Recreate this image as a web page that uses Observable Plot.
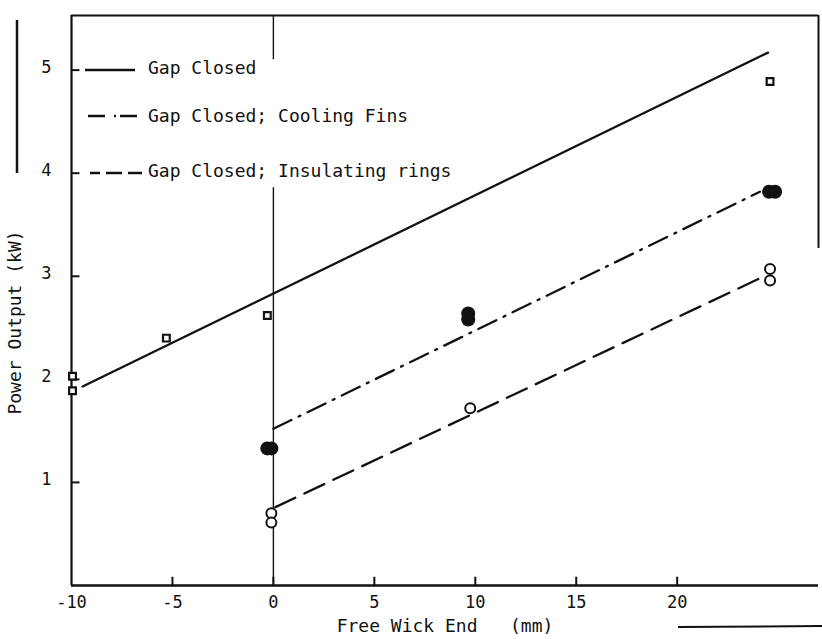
<!DOCTYPE html>
<html><head><meta charset="utf-8">
<script src="https://cdn.jsdelivr.net/npm/d3@7"></script>
<script src="https://cdn.jsdelivr.net/npm/@observablehq/plot@0.6"></script>
<style>
body{margin:0;background:#fff;}
#wrap{position:relative;width:822px;height:639px;overflow:hidden;}
#wrap svg text{white-space:pre;}
</style></head><body><div id="wrap"></div>
<script>
// ---- data ----
const xTicks = [-10, -5, 0, 5, 10, 15, 20];
const yTicks = [1, 2, 3, 4, 5];
const seriesNames = ["Gap Closed", "Gap Closed; Cooling Fins", "Gap Closed; Insulating rings"];
// Gap Closed (open squares)
const squareX = [-9.95, -9.95, -5.3, -0.3, 24.6];
const squareY = [2.03, 1.89, 2.40, 2.62, 4.89];
// Gap Closed; Cooling Fins (filled circles)
const filledX = [-0.3, -0.1, 9.65, 9.65, 24.55, 24.85];
const filledY = [1.33, 1.33, 2.64, 2.58, 3.82, 3.82];
// Gap Closed; Insulating rings (open circles)
const openX = [-0.1, -0.1, 9.75, 24.6, 24.6];
const openY = [0.70, 0.61, 1.72, 3.07, 2.96];
// fitted lines (end points)
const solidX = [-9.45, 24.5], solidY = [1.93, 5.17];
const dashDotX = [0, 24.1], dashDotY = [1.52, 3.82];
const dashedX = [0.1, 24.2], dashedY = [0.76, 2.99];
const xLabel = "Free Wick End   (mm)";
const yLabel = "Power Output (kW)";
const xDomain = [-10, 27], yDomain = [0, 5.53];
const zeroRuleSegments = [[0, 3.86], [5.10, 5.53]];
const rightFrameSpan = [3.27, 5.53];
const tickLenY = 0.08, tickLenX = 0.42;

// ---- build ----
const zip = (xs, ys) => xs.map((x, i) => ({x, y: ys[i]}));
const F = "'DejaVu Sans Mono', monospace";
const ink = "#111";

const plot = Plot.plot({
  width: 822, height: 639,
  marginLeft: 71, marginRight: 4, marginTop: 15, marginBottom: 54,
  x: {domain: xDomain},
  y: {domain: yDomain},
  style: {fontFamily: F, fontSize: "17px", color: ink, background: "#fff"},
  marks: [
    Plot.axisX(xTicks, {tickSize: 0, tickPadding: 10, fontSize: 17, label: null, tickFormat: d => String(d)}),
    Plot.axisY(yTicks, {tickSize: 0, tickPadding: 20, dy: -3, fontSize: 17, label: null, tickFormat: d => String(d)}),
    // inward ticks
    Plot.ruleX(xTicks.filter(d => d !== xDomain[0]), {x: d => d, y1: 0, y2: tickLenY, stroke: ink, strokeWidth: 2}),
    Plot.ruleY(yTicks, {y: d => d, x1: xDomain[0], x2: xDomain[0] + tickLenX, stroke: ink, strokeWidth: 2}),
    // frame
    Plot.ruleY([yDomain[0]], {stroke: ink, strokeWidth: 2.5}),
    Plot.ruleY([yDomain[1]], {stroke: ink, strokeWidth: 2}),
    Plot.ruleX([xDomain[0]], {stroke: ink, strokeWidth: 2.2}),
    Plot.ruleX([xDomain[1]], {y1: rightFrameSpan[0], y2: rightFrameSpan[1], stroke: ink, strokeWidth: 2}),
    // x = 0 reference line
    Plot.ruleX(zeroRuleSegments, {x: 0, y1: d => d[0], y2: d => d[1], stroke: ink, strokeWidth: 1.4}),
    // fitted lines
    Plot.line(zip(solidX, solidY), {x: "x", y: "y", stroke: ink, strokeWidth: 2.3}),
    Plot.line(zip(dashDotX, dashDotY), {x: "x", y: "y", stroke: ink, strokeWidth: 2.3, strokeDasharray: "20,8,2,8"}),
    Plot.line(zip(dashedX, dashedY), {x: "x", y: "y", stroke: ink, strokeWidth: 2.3, strokeDasharray: "22,10"}),
    // points
    Plot.dot(zip(squareX, squareY), {x: "x", y: "y", symbol: "square", r: 3.8, stroke: ink, strokeWidth: 2.2, fill: "#fff"}),
    Plot.dot(zip(filledX, filledY), {x: "x", y: "y", r: 7, fill: ink, stroke: "none"}),
    Plot.dot(zip(openX, openY), {x: "x", y: "y", r: 5, stroke: ink, strokeWidth: 2, fill: "#fff"}),
    // axis titles
    Plot.text([yLabel], {frameAnchor: "left", textAnchor: "middle", lineAnchor: "middle", rotate: -90, dx: -56, dy: 22, fontSize: 18, fill: ink}),
    Plot.text([xLabel], {frameAnchor: "bottom", textAnchor: "middle", lineAnchor: "middle", dy: 41, fontSize: 18, fill: ink})
  ]
});
document.getElementById("wrap").appendChild(plot);

// legend (inside plot, upper left)
const svg = d3.select(plot);
const lg = svg.append("g").attr("stroke", ink).attr("stroke-width", 2.4).attr("fill", "none");
const legendStyles = [
  {x1: 85, x2: 135, y: 70, dash: null, ty: 68},
  {x1: 88, x2: 140, y: 116, dash: "17,9,2,4", ty: 116},
  {x1: 90, x2: 142, y: 173, dash: "10,6,16,6,14", ty: 171}
];
legendStyles.forEach((s, i) => {
  lg.append("line").attr("x1", s.x1).attr("x2", s.x2).attr("y1", s.y).attr("y2", s.y)
    .attr("stroke-dasharray", s.dash);
  svg.append("text").attr("x", 148).attr("y", s.ty).attr("dy", "0.35em")
    .attr("text-anchor", "start")
    .attr("font-family", F).attr("font-size", 18).attr("fill", ink)
    .text(seriesNames[i]);
});
// scan marks outside the frame
svg.append("line").attr("x1", 17).attr("x2", 17).attr("y1", 20).attr("y2", 173).attr("stroke", ink).attr("stroke-width", 2.5);
svg.append("line").attr("x1", 678).attr("x2", 822).attr("y1", 627).attr("y2", 626).attr("stroke", ink).attr("stroke-width", 2);
</script>
</body></html>
